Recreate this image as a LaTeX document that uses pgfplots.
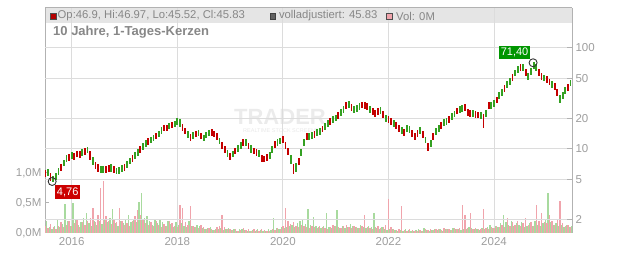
\documentclass[border=0pt]{standalone}
\usepackage{pgfplots}
\pgfplotsset{compat=1.18}
\usepackage{fontspec}
\setmainfont{Liberation Sans}
\definecolor{cgreen}{RGB}{52,160,34}
\definecolor{cred}{RGB}{196,0,0}
\definecolor{vpink}{RGB}{240,164,172}
\definecolor{vgreen}{RGB}{168,218,158}
\definecolor{gridc}{RGB}{220,220,220}
\definecolor{tickc}{RGB}{158,158,158}
\definecolor{hdrc}{RGB}{135,135,135}
\definecolor{bandc}{RGB}{229,229,229}
\definecolor{axc}{RGB}{178,178,178}
\definecolor{lblred}{RGB}{204,0,0}
\definecolor{lblgreen}{RGB}{0,150,0}
\definecolor{sqred}{RGB}{180,0,0}
\begin{document}
\begin{tikzpicture}
\useasboundingbox (0pt,0pt) rectangle (632pt,253pt);
% header band
\fill[bandc] (45pt,230pt) rectangle (572pt,245pt);
% watermark
\node[font=\bfseries\fontsize{22}{22}\selectfont, text=black!8, inner sep=0pt] at (280pt,136pt) {TRADER};
\node[font=\fontsize{5.5}{6}\selectfont, text=black!9, inner sep=0pt] at (283pt,122pt) {REALTIME STOCK SCREENER};
% volume axis
\begin{axis}[
  at={(45pt,20pt)}, anchor=south west, scale only axis,
  width=527pt, height=225pt,
  xmin=2015.494, xmax=2025.477, ymin=0, ymax=3.75,
  separate axis lines,
  x axis line style={draw=none},
  y axis line style={draw=axc, line width=1pt},
  xtick={2016,2018,2020,2022,2024},
  xticklabels={2016,2018,2020,2022,2024},
  major x tick style={draw=none},
  ytick={0,0.5,1}, yticklabels={{0,0M},{0,5M},{1,0M}},
  ytick pos=left, tick align=inside, major tick length=4pt,
  major y tick style={draw=axc, line width=1pt},
  xmajorgrids, grid style={draw=gridc, line width=1pt},
  tick label style={font=\fontsize{11.5}{12}\selectfont, text=tickc},
  /pgf/number format/assume math mode=true,
  xticklabel style={yshift=-1pt},
]
\addplot[ycomb, vgreen, line width=1.35pt, mark=none] table[x expr=2015.525+0.05*\coordindex, y index=0, row sep=\\] {v\\
0.20\\ 0.10\\ 0.06\\ 0.12\\ 0.22\\ 0.10\\ 0.15\\ 0.48\\ 0.20\\ 0.12\\
0.50\\ 0.22\\ 0.14\\ 0.18\\ 0.25\\ 0.33\\ 0.16\\ 0.12\\ 0.20\\ 0.14\\
0.20\\ 0.15\\ 0.22\\ 0.18\\ 0.25\\ 0.40\\ 0.16\\ 0.12\\ 0.20\\ 0.16\\
0.22\\ 0.30\\ 0.18\\ 0.24\\ 0.18\\ 0.52\\ 0.67\\ 0.25\\ 0.28\\ 0.20\\
0.14\\ 0.22\\ 0.16\\ 0.24\\ 0.18\\ 0.12\\ 0.20\\ 0.15\\ 0.10\\ 0.18\\
0.14\\ 0.16\\ 0.12\\ 0.10\\ 0.20\\ 0.12\\ 0.10\\ 0.14\\ 0.12\\ 0.08\\
0.06\\ 0.08\\ 0.10\\ 0.05\\ 0.07\\ 0.06\\ 0.08\\ 0.05\\ 0.06\\ 0.08\\
0.05\\ 0.06\\ 0.04\\ 0.07\\ 0.06\\ 0.05\\ 0.04\\ 0.03\\ 0.05\\ 0.04\\
0.06\\ 0.05\\ 0.04\\ 0.03\\ 0.06\\ 0.05\\ 0.25\\ 0.08\\ 0.06\\ 0.10\\
0.08\\ 0.10\\ 0.12\\ 0.14\\ 0.10\\ 0.16\\ 0.20\\ 0.24\\ 0.15\\ 0.40\\
0.14\\ 0.27\\ 0.12\\ 0.10\\ 0.08\\ 0.12\\ 0.33\\ 0.10\\ 0.08\\ 0.12\\
0.38\\ 0.09\\ 0.12\\ 0.08\\ 0.10\\ 0.15\\ 0.12\\ 0.10\\ 0.08\\ 0.14\\
0.10\\ 0.08\\ 0.12\\ 0.10\\ 0.33\\ 0.08\\ 0.06\\ 0.10\\ 0.06\\ 0.05\\
0.06\\ 0.07\\ 0.05\\ 0.04\\ 0.05\\ 0.04\\ 0.06\\ 0.05\\ 0.04\\ 0.03\\
0.05\\ 0.06\\ 0.04\\ 0.08\\ 0.05\\ 0.04\\ 0.05\\ 0.07\\ 0.05\\ 0.06\\
0.04\\ 0.06\\ 0.07\\ 0.05\\ 0.08\\ 0.06\\ 0.07\\ 0.05\\ 0.07\\ 0.06\\
0.10\\ 0.08\\ 0.07\\ 0.06\\ 0.05\\ 0.08\\ 0.06\\ 0.10\\ 0.14\\ 0.08\\
0.12\\ 0.10\\ 0.16\\ 0.30\\ 0.18\\ 0.14\\ 0.20\\ 0.12\\ 0.16\\ 0.14\\
0.18\\ 0.10\\ 0.12\\ 0.16\\ 0.12\\ 0.20\\ 0.14\\ 0.12\\ 0.16\\ 0.22\\
0.67\\ 0.18\\ 0.14\\ 0.16\\ 0.12\\ 0.14\\ 0.10\\ 0.14\\ 0.10\\ 0.12\\
};
\addplot[ycomb, vpink, line width=1.35pt, mark=none] table[x expr=2015.5+0.05*\coordindex, y index=0, row sep=\\] {v\\
0.12\\ 0.08\\ 0.15\\ 0.10\\ 0.06\\ 0.12\\ 0.18\\ 0.10\\ 0.14\\ 0.20\\
0.12\\ 0.16\\ 0.22\\ 0.10\\ 0.18\\ 0.14\\ 0.20\\ 0.25\\ 0.42\\ 0.18\\
0.30\\ 0.75\\ 0.86\\ 0.28\\ 0.20\\ 0.15\\ 0.22\\ 0.18\\ 0.42\\ 0.20\\
0.14\\ 0.16\\ 0.12\\ 0.20\\ 0.28\\ 0.38\\ 0.30\\ 0.22\\ 0.16\\ 0.14\\
0.18\\ 0.12\\ 0.20\\ 0.14\\ 0.10\\ 0.15\\ 0.12\\ 0.20\\ 0.16\\ 0.12\\
0.10\\ 0.47\\ 0.42\\ 0.18\\ 0.14\\ 0.45\\ 0.12\\ 0.10\\ 0.08\\ 0.14\\
0.10\\ 0.06\\ 0.08\\ 0.07\\ 0.05\\ 0.10\\ 0.12\\ 0.30\\ 0.10\\ 0.06\\
0.07\\ 0.05\\ 0.06\\ 0.04\\ 0.05\\ 0.08\\ 0.05\\ 0.06\\ 0.04\\ 0.07\\
0.05\\ 0.04\\ 0.06\\ 0.05\\ 0.04\\ 0.03\\ 0.06\\ 0.05\\ 0.08\\ 0.06\\
0.12\\ 0.42\\ 0.20\\ 0.15\\ 0.18\\ 0.12\\ 0.10\\ 0.14\\ 0.12\\ 0.10\\
0.08\\ 0.12\\ 0.10\\ 0.09\\ 0.12\\ 0.10\\ 0.08\\ 0.06\\ 0.10\\ 0.14\\
0.12\\ 0.10\\ 0.08\\ 0.12\\ 0.14\\ 0.10\\ 0.08\\ 0.12\\ 0.10\\ 0.09\\
0.12\\ 0.30\\ 0.10\\ 0.08\\ 0.06\\ 0.10\\ 0.12\\ 0.08\\ 0.10\\ 0.14\\
0.57\\ 0.10\\ 0.06\\ 0.05\\ 0.06\\ 0.45\\ 0.05\\ 0.04\\ 0.06\\ 0.05\\
0.04\\ 0.03\\ 0.05\\ 0.04\\ 0.06\\ 0.05\\ 0.06\\ 0.05\\ 0.07\\ 0.06\\
0.05\\ 0.08\\ 0.06\\ 0.07\\ 0.05\\ 0.08\\ 0.06\\ 0.09\\ 0.47\\ 0.30\\
0.08\\ 0.33\\ 0.06\\ 0.08\\ 0.07\\ 0.06\\ 0.40\\ 0.08\\ 0.06\\ 0.10\\
0.08\\ 0.12\\ 0.10\\ 0.14\\ 0.10\\ 0.25\\ 0.12\\ 0.18\\ 0.14\\ 0.20\\
0.12\\ 0.16\\ 0.25\\ 0.14\\ 0.18\\ 0.12\\ 0.47\\ 0.20\\ 0.33\\ 0.18\\
0.16\\ 0.30\\ 0.20\\ 0.14\\ 0.22\\ 0.53\\ 0.16\\ 0.12\\ 0.14\\ 0.10\\
};
\end{axis}
% price axis
\begin{axis}[
  at={(45pt,20pt)}, anchor=south west, scale only axis,
  width=527pt, height=225pt,
  xmin=2015.494, xmax=2025.477,
  ymode=log, ymin=1.47, ymax=249,
  axis line style={draw=none},
  xtick=\empty,
  ytick={2,5,10,20,50,100}, yticklabels={2,5,10,20,50,100},
  ytick pos=right, tick align=inside, major tick length=5pt,
  major y tick style={draw=axc, line width=1pt},
  minor ytick={},
  ymajorgrids, grid style={draw=gridc, line width=1pt},
  tick label style={font=\fontsize{11.5}{12}\selectfont, text=tickc},
  /pgf/number format/assume math mode=true,
  unbounded coords=jump,
]
% up candles
\addplot[cgreen, line width=1.8pt, line cap=rect, mark=none] coordinates {
(2015.55,5.5)(2015.55,6.2)(2015.55,nan)
(2015.65,4.76)(2015.65,5.3)(2015.65,nan)
(2015.70,5.0)(2015.70,5.6)(2015.70,nan)
(2015.75,5.6)(2015.75,6.3)(2015.75,nan)
(2015.85,6.9)(2015.85,7.7)(2015.85,nan)
(2015.90,7.6)(2015.90,8.5)(2015.90,nan)
(2016.00,8.1)(2016.00,9.1)(2016.00,nan)
(2016.20,8.7)(2016.20,9.7)(2016.20,nan)
(2016.30,9.2)(2016.30,10.3)(2016.30,nan)
(2016.40,7.1)(2016.40,8.1)(2016.40,nan)
(2016.55,5.9)(2016.55,6.6)(2016.55,nan)
(2016.60,5.9)(2016.60,6.7)(2016.60,nan)
(2016.75,6.1)(2016.75,6.9)(2016.75,nan)
(2016.85,5.7)(2016.85,6.4)(2016.85,nan)
(2016.90,5.7)(2016.90,6.5)(2016.90,nan)
(2016.95,6.0)(2016.95,6.8)(2016.95,nan)
(2017.05,6.6)(2017.05,7.4)(2017.05,nan)
(2017.10,7.2)(2017.10,8.0)(2017.10,nan)
(2017.20,8.1)(2017.20,9.1)(2017.20,nan)
(2017.25,8.7)(2017.25,9.8)(2017.25,nan)
(2017.35,10.0)(2017.35,11.2)(2017.35,nan)
(2017.40,10.6)(2017.40,11.9)(2017.40,nan)
(2017.50,11.6)(2017.50,13.0)(2017.50,nan)
(2017.55,12.1)(2017.55,13.5)(2017.55,nan)
(2017.65,13.3)(2017.65,14.8)(2017.65,nan)
(2017.70,14.4)(2017.70,16.0)(2017.70,nan)
(2017.85,16.0)(2017.85,17.7)(2017.85,nan)
(2017.95,16.7)(2017.95,18.5)(2017.95,nan)
(2018.00,17.6)(2018.00,19.8)(2018.00,nan)
(2018.05,17.0)(2018.05,19.4)(2018.05,nan)
(2018.20,13.0)(2018.20,14.6)(2018.20,nan)
(2018.30,12.9)(2018.30,14.4)(2018.30,nan)
(2018.40,13.6)(2018.40,15.1)(2018.40,nan)
(2018.50,12.2)(2018.50,13.6)(2018.50,nan)
(2018.55,13.0)(2018.55,14.5)(2018.55,nan)
(2018.60,13.6)(2018.60,15.1)(2018.60,nan)
(2018.80,11.3)(2018.80,12.7)(2018.80,nan)
(2018.95,8.5)(2018.95,9.6)(2018.95,nan)
(2019.05,8.4)(2019.05,9.4)(2019.05,nan)
(2019.15,9.5)(2019.15,10.7)(2019.15,nan)
(2019.20,10.2)(2019.20,11.5)(2019.20,nan)
(2019.30,10.9)(2019.30,12.3)(2019.30,nan)
(2019.40,9.4)(2019.40,10.6)(2019.40,nan)
(2019.55,8.4)(2019.55,9.5)(2019.55,nan)
(2019.75,8.2)(2019.75,9.2)(2019.75,nan)
(2019.80,9.2)(2019.80,10.4)(2019.80,nan)
(2019.90,11.0)(2019.90,12.4)(2019.90,nan)
(2019.95,11.3)(2019.95,12.7)(2019.95,nan)
(2020.15,7.2)(2020.15,8.5)(2020.15,nan)
(2020.25,6.1)(2020.25,7.1)(2020.25,nan)
(2020.35,8.6)(2020.35,9.8)(2020.35,nan)
(2020.40,10.8)(2020.40,12.2)(2020.40,nan)
(2020.50,12.6)(2020.50,14.2)(2020.50,nan)
(2020.55,12.9)(2020.55,14.5)(2020.55,nan)
(2020.65,13.6)(2020.65,15.3)(2020.65,nan)
(2020.70,14.0)(2020.70,15.8)(2020.70,nan)
(2020.80,15.9)(2020.80,17.8)(2020.80,nan)
(2020.85,16.8)(2020.85,18.9)(2020.85,nan)
(2020.95,18.5)(2020.95,20.7)(2020.95,nan)
(2021.00,19.1)(2021.00,21.4)(2021.00,nan)
(2021.10,21.7)(2021.10,24.4)(2021.10,nan)
(2021.15,23.1)(2021.15,26.0)(2021.15,nan)
(2021.25,26.2)(2021.25,29.4)(2021.25,nan)
(2021.35,23.1)(2021.35,26.0)(2021.35,nan)
(2021.40,23.9)(2021.40,26.8)(2021.40,nan)
(2021.45,25.0)(2021.45,28.0)(2021.45,nan)
(2021.65,23.4)(2021.65,26.3)(2021.65,nan)
(2021.85,22.6)(2021.85,25.4)(2021.85,nan)
(2021.95,18.9)(2021.95,21.2)(2021.95,nan)
(2022.10,17.0)(2022.10,19.1)(2022.10,nan)
(2022.25,14.5)(2022.25,16.3)(2022.25,nan)
(2022.35,15.1)(2022.35,17.0)(2022.35,nan)
(2022.40,14.7)(2022.40,16.5)(2022.40,nan)
(2022.60,14.3)(2022.60,16.1)(2022.60,nan)
(2022.70,11.6)(2022.70,13.0)(2022.70,nan)
(2022.80,10.7)(2022.80,12.1)(2022.80,nan)
(2022.90,14.1)(2022.90,15.9)(2022.90,nan)
(2022.95,15.1)(2022.95,17.0)(2022.95,nan)
(2023.05,17.3)(2023.05,19.4)(2023.05,nan)
(2023.10,17.8)(2023.10,20.0)(2023.10,nan)
(2023.20,19.6)(2023.20,22.0)(2023.20,nan)
(2023.25,21.0)(2023.25,23.5)(2023.25,nan)
(2023.35,23.2)(2023.35,26.1)(2023.35,nan)
(2023.40,23.8)(2023.40,26.7)(2023.40,nan)
(2023.60,21.0)(2023.60,23.6)(2023.60,nan)
(2023.75,20.2)(2023.75,22.7)(2023.75,nan)
(2023.85,21.2)(2023.85,23.9)(2023.85,nan)
(2023.95,25.5)(2023.95,28.6)(2023.95,nan)
(2024.00,26.6)(2024.00,29.9)(2024.00,nan)
(2024.10,31.6)(2024.10,35.5)(2024.10,nan)
(2024.15,34.2)(2024.15,38.5)(2024.15,nan)
(2024.25,41.0)(2024.25,46.1)(2024.25,nan)
(2024.30,44.3)(2024.30,49.8)(2024.30,nan)
(2024.40,53.3)(2024.40,59.9)(2024.40,nan)
(2024.45,58.0)(2024.45,65.2)(2024.45,nan)
(2024.55,60.4)(2024.55,67.8)(2024.55,nan)
(2024.65,49.0)(2024.65,55.1)(2024.65,nan)
(2024.70,54.7)(2024.70,61.5)(2024.70,nan)
(2024.75,63.0)(2024.75,71.4)(2024.75,nan)
(2024.80,60.4)(2024.80,67.8)(2024.80,nan)
(2024.95,47.6)(2024.95,53.5)(2024.95,nan)
(2025.10,41.0)(2025.10,46.1)(2025.10,nan)
(2025.25,29.2)(2025.25,33.4)(2025.25,nan)
(2025.30,32.1)(2025.30,36.0)(2025.30,nan)
(2025.35,35.8)(2025.35,40.3)(2025.35,nan)
(2025.45,42.5)(2025.45,46.97)(2025.45,nan)
};
% down candles
\addplot[cred, line width=1.8pt, line cap=rect, mark=none] coordinates {
(2015.50,5.4)(2015.50,6.1)(2015.50,nan)
(2015.60,4.9)(2015.60,5.6)(2015.60,nan)
(2015.80,6.2)(2015.80,7.0)(2015.80,nan)
(2015.95,7.7)(2015.95,8.7)(2015.95,nan)
(2016.05,8.0)(2016.05,9.0)(2016.05,nan)
(2016.10,8.4)(2016.10,9.4)(2016.10,nan)
(2016.15,8.3)(2016.15,9.3)(2016.15,nan)
(2016.25,8.9)(2016.25,9.9)(2016.25,nan)
(2016.35,8.0)(2016.35,9.4)(2016.35,nan)
(2016.45,6.5)(2016.45,7.3)(2016.45,nan)
(2016.50,6.1)(2016.50,6.9)(2016.50,nan)
(2016.65,5.9)(2016.65,6.6)(2016.65,nan)
(2016.70,6.0)(2016.70,6.8)(2016.70,nan)
(2016.80,5.9)(2016.80,6.7)(2016.80,nan)
(2017.00,6.2)(2017.00,7.0)(2017.00,nan)
(2017.15,7.6)(2017.15,8.5)(2017.15,nan)
(2017.30,9.3)(2017.30,10.4)(2017.30,nan)
(2017.45,11.2)(2017.45,12.5)(2017.45,nan)
(2017.60,12.7)(2017.60,14.2)(2017.60,nan)
(2017.75,15.4)(2017.75,17.0)(2017.75,nan)
(2017.80,15.2)(2017.80,16.9)(2017.80,nan)
(2017.90,16.4)(2017.90,18.2)(2017.90,nan)
(2018.10,15.5)(2018.10,17.3)(2018.10,nan)
(2018.15,14.2)(2018.15,15.9)(2018.15,nan)
(2018.25,12.3)(2018.25,13.8)(2018.25,nan)
(2018.35,13.4)(2018.35,14.9)(2018.35,nan)
(2018.45,12.7)(2018.45,14.2)(2018.45,nan)
(2018.65,13.8)(2018.65,15.3)(2018.65,nan)
(2018.70,13.3)(2018.70,14.8)(2018.70,nan)
(2018.75,12.5)(2018.75,14.0)(2018.75,nan)
(2018.85,10.1)(2018.85,11.4)(2018.85,nan)
(2018.90,9.2)(2018.90,10.4)(2018.90,nan)
(2019.00,8.0)(2019.00,9.0)(2019.00,nan)
(2019.10,9.0)(2019.10,10.1)(2019.10,nan)
(2019.25,10.8)(2019.25,12.4)(2019.25,nan)
(2019.35,10.1)(2019.35,11.3)(2019.35,nan)
(2019.45,9.0)(2019.45,10.1)(2019.45,nan)
(2019.50,8.7)(2019.50,9.8)(2019.50,nan)
(2019.60,7.6)(2019.60,8.6)(2019.60,nan)
(2019.65,7.5)(2019.65,8.4)(2019.65,nan)
(2019.70,7.8)(2019.70,8.8)(2019.70,nan)
(2019.85,10.5)(2019.85,11.8)(2019.85,nan)
(2020.00,11.6)(2020.00,13.1)(2020.00,nan)
(2020.05,10.2)(2020.05,11.6)(2020.05,nan)
(2020.10,8.8)(2020.10,10.0)(2020.10,nan)
(2020.20,5.8)(2020.20,6.9)(2020.20,nan)
(2020.30,7.0)(2020.30,8.0)(2020.30,nan)
(2020.45,12.4)(2020.45,14.0)(2020.45,nan)
(2020.60,13.2)(2020.60,14.8)(2020.60,nan)
(2020.75,14.9)(2020.75,16.7)(2020.75,nan)
(2020.90,17.8)(2020.90,19.9)(2020.90,nan)
(2021.05,20.3)(2021.05,22.8)(2021.05,nan)
(2021.20,25.5)(2021.20,28.6)(2021.20,nan)
(2021.30,24.3)(2021.30,27.3)(2021.30,nan)
(2021.50,25.8)(2021.50,28.9)(2021.50,nan)
(2021.55,25.5)(2021.55,28.6)(2021.55,nan)
(2021.60,24.8)(2021.60,27.9)(2021.60,nan)
(2021.70,22.0)(2021.70,24.7)(2021.70,nan)
(2021.75,21.3)(2021.75,24.0)(2021.75,nan)
(2021.80,22.1)(2021.80,24.8)(2021.80,nan)
(2021.90,20.6)(2021.90,23.1)(2021.90,nan)
(2022.00,18.4)(2022.00,20.7)(2022.00,nan)
(2022.05,17.7)(2022.05,19.9)(2022.05,nan)
(2022.15,16.0)(2022.15,18.0)(2022.15,nan)
(2022.20,14.9)(2022.20,16.8)(2022.20,nan)
(2022.30,13.6)(2022.30,15.3)(2022.30,nan)
(2022.45,13.4)(2022.45,15.0)(2022.45,nan)
(2022.50,12.6)(2022.50,14.2)(2022.50,nan)
(2022.55,13.5)(2022.55,15.2)(2022.55,nan)
(2022.65,13.0)(2022.65,14.6)(2022.65,nan)
(2022.75,9.8)(2022.75,11.3)(2022.75,nan)
(2022.85,12.6)(2022.85,14.2)(2022.85,nan)
(2023.00,16.2)(2023.00,18.2)(2023.00,nan)
(2023.15,18.5)(2023.15,20.8)(2023.15,nan)
(2023.30,22.4)(2023.30,25.2)(2023.30,nan)
(2023.45,24.5)(2023.45,27.6)(2023.45,nan)
(2023.50,21.7)(2023.50,24.4)(2023.50,nan)
(2023.55,21.3)(2023.55,24.0)(2023.55,nan)
(2023.65,20.8)(2023.65,23.3)(2023.65,nan)
(2023.70,20.5)(2023.70,23.0)(2023.70,nan)
(2023.80,16.3)(2023.80,21.8)(2023.80,nan)
(2023.90,25.3)(2023.90,28.4)(2023.90,nan)
(2024.05,28.8)(2024.05,32.3)(2024.05,nan)
(2024.20,37.3)(2024.20,41.9)(2024.20,nan)
(2024.35,48.1)(2024.35,54.1)(2024.35,nan)
(2024.50,59.9)(2024.50,67.3)(2024.50,nan)
(2024.60,53.8)(2024.60,60.4)(2024.60,nan)
(2024.85,54.2)(2024.85,61.0)(2024.85,nan)
(2024.90,49.5)(2024.90,55.7)(2024.90,nan)
(2025.00,45.7)(2025.00,51.4)(2025.00,nan)
(2025.05,43.4)(2025.05,48.8)(2025.05,nan)
(2025.15,39.1)(2025.15,44.0)(2025.15,nan)
(2025.20,33.9)(2025.20,38.2)(2025.20,nan)
(2025.40,38.2)(2025.40,42.9)(2025.40,nan)
};
% extreme markers
\draw[black!80, line width=0.9pt] (axis cs:2015.63,4.76) circle[radius=4pt];
\node[fill=lblred, text=white, font=\fontsize{11}{11}\selectfont, inner sep=1.8pt, text height=8pt, text depth=1.5pt] at (axis cs:2015.63,4.76) [xshift=15.5pt, yshift=-10.5pt] {4,76};
\draw[black!80, line width=0.9pt] (axis cs:2024.74,71.4) circle[radius=4pt];
\node[fill=lblgreen, text=white, font=\fontsize{11}{11}\selectfont, inner sep=1.8pt, text height=8pt, text depth=1.5pt] at (axis cs:2024.74,71.4) [xshift=-18.5pt, yshift=10.5pt] {71,40};
\end{axis}
% header frame line and legend
\draw[axc, line width=1pt] (45pt,245pt) -- (572pt,245pt);
\fill[sqred, draw=black!70, line width=0.5pt] (50.6pt,233.8pt) rectangle (56pt,239.6pt);
\node[anchor=west, inner sep=0pt, font=\fontsize{11.3}{12}\selectfont, text=hdrc] at (57.5pt,237pt) {Op:46.9, Hi:46.97, Lo:45.52, Cl:45.83};
\fill[black!62, draw=black!75, line width=0.5pt] (270pt,233.8pt) rectangle (275.6pt,239.6pt);
\node[anchor=west, inner sep=0pt, font=\fontsize{11.3}{12}\selectfont, text=hdrc] at (278.8pt,237pt) {volladjustiert: 45.83};
\fill[vpink, draw=black!70, line width=0.5pt] (386.6pt,233.8pt) rectangle (392.2pt,239.6pt);
\node[anchor=west, inner sep=0pt, font=\fontsize{11.3}{12}\selectfont, text=hdrc] at (396pt,237pt) {Vol: 0M};
\node[anchor=west, inner sep=0pt, font=\bfseries\fontsize{13}{13}\selectfont, text=hdrc] at (53pt,221pt) {10 Jahre, 1-Tages-Kerzen};
\end{tikzpicture}
\end{document}
